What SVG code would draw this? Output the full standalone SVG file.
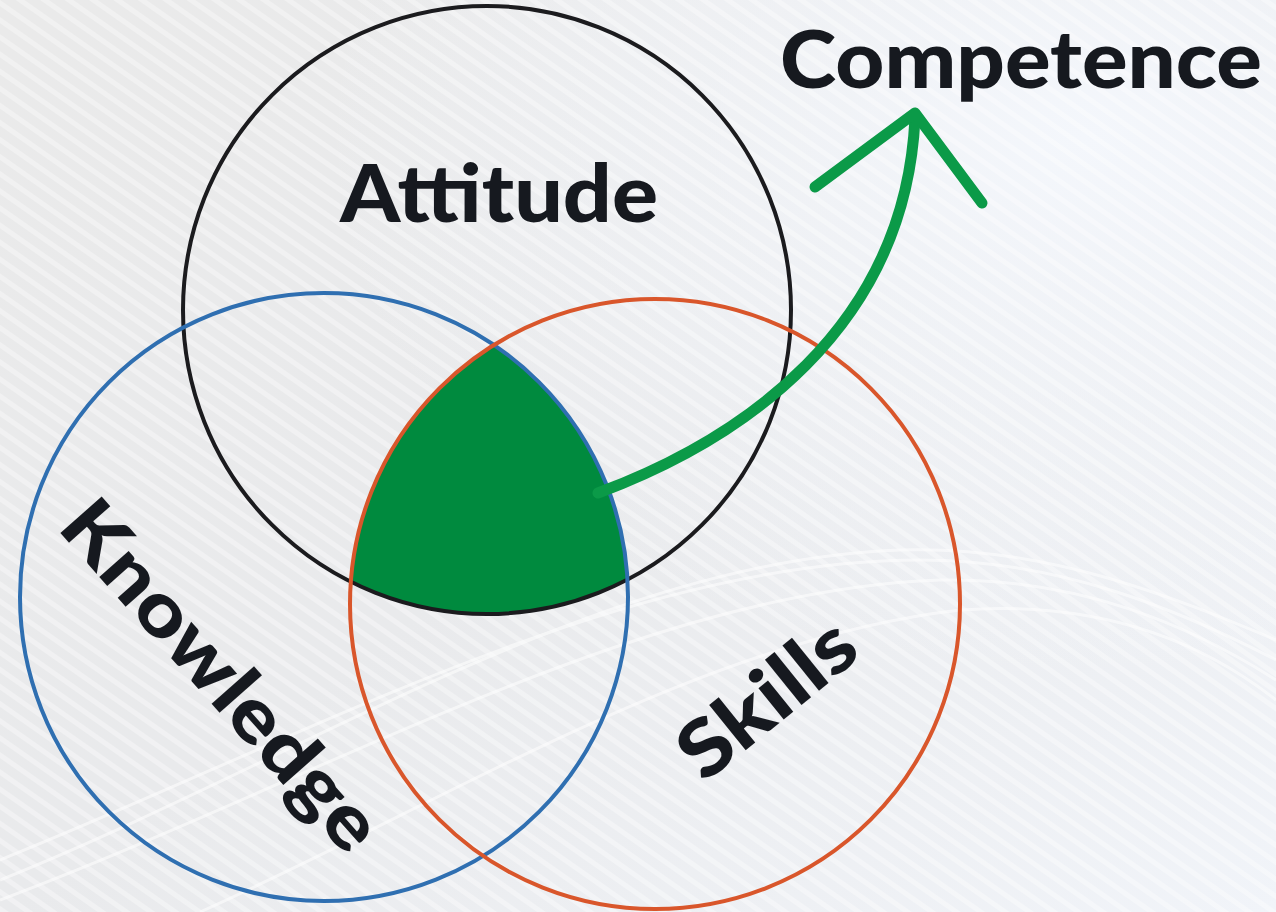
<svg xmlns="http://www.w3.org/2000/svg" width="1276" height="912" viewBox="0 0 1276 912">
<defs>
<linearGradient id="bg" x1="0" y1="0" x2="1" y2="1">
<stop offset="0" stop-color="#eaeaea"/>
<stop offset="0.5" stop-color="#e9eaec"/>
<stop offset="1" stop-color="#f1f4f9"/>
</linearGradient>
<radialGradient id="glow" cx="0.85" cy="0.15" r="0.6">
<stop offset="0" stop-color="#f4f7fc"/>
<stop offset="1" stop-color="#f4f7fc" stop-opacity="0"/>
</radialGradient>
<pattern id="stripes" width="14" height="14" patternUnits="userSpaceOnUse" patternTransform="rotate(35)">
<rect width="14" height="5" fill="#ffffff" opacity="0.35"/>
</pattern>
<clipPath id="clipA"><circle cx="487" cy="310" r="304"/></clipPath>
<clipPath id="clipS"><circle cx="655" cy="604" r="305"/></clipPath>
<style>
.ring{fill:none;stroke-width:4}
.lbl{font-family:Lato,"Liberation Sans",sans-serif;font-weight:900;fill:#16191f}
.arrow{fill:none;stroke:#0b9a48;stroke-width:11;stroke-linecap:round;stroke-linejoin:round}
</style>
</defs>
<rect width="1276" height="912" fill="url(#bg)"/>
<rect width="1276" height="912" fill="url(#glow)"/>
<rect width="1276" height="912" fill="url(#stripes)"/>
<g fill="none" stroke="#ffffff" stroke-width="3" opacity="0.55">
<path d="M0,880 C300,760 600,560 900,550 C1050,545 1180,600 1276,640"/>
<path d="M0,860 C300,740 620,560 920,560 C1060,560 1180,610 1276,660"/>
<path d="M0,900 C320,780 640,590 940,580 C1080,578 1190,625 1276,680"/>
<path d="M200,912 C450,800 700,640 960,610 C1100,600 1200,640 1276,700"/>
</g>
<g id="competence-area">
<g clip-path="url(#clipA)"><g clip-path="url(#clipS)"><circle cx="324" cy="597" r="304" fill="#008a3e"/></g></g>
</g>
<g id="attitude"><circle class="ring" cx="487" cy="310" r="304" stroke="#1b1b1e"/><text class="lbl" x="340" y="222" font-size="80" textLength="318" lengthAdjust="spacingAndGlyphs">Attitude</text></g>
<g id="knowledge"><circle class="ring" cx="324" cy="597" r="304" stroke="#2f6fb1"/><text class="lbl" transform="translate(56,528) rotate(48.5)" font-size="76" textLength="440" lengthAdjust="spacingAndGlyphs">Knowledge</text></g>
<g id="skills"><circle class="ring" cx="655" cy="604" r="305" stroke="#d9562b"/><text class="lbl" transform="translate(704,784) rotate(-39)" font-size="78" textLength="205" lengthAdjust="spacingAndGlyphs">Skills</text></g>
<g id="connectors">
<path class="arrow" d="M598,493 C740,440 905,330 915,118"/>
<path class="arrow" d="M815,187 L915,113 L982,203"/>
</g>
<g id="competence"><text class="lbl" x="780" y="88" font-size="80" textLength="482" lengthAdjust="spacingAndGlyphs">Competence</text></g>
</svg>
